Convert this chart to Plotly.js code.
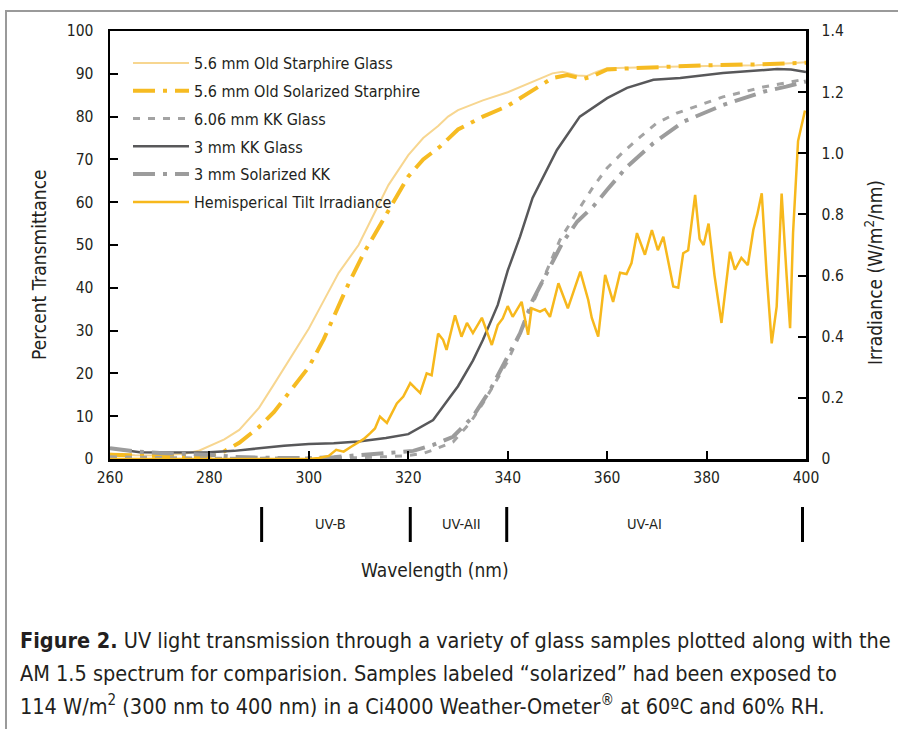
<!DOCTYPE html>
<html>
<head>
<meta charset="utf-8">
<script src="https://cdn.plot.ly/plotly-3.0.1.min.js"></script>
<style>
  html, body { margin: 0; padding: 0; background: #fff; }
  #chart { width: 898px; height: 729px; }
</style>
</head>
<body>
<div id="chart"></div>
<script>
// ---- Data ----
var starphireNm = [260, 265, 270, 275, 278, 280, 283, 286, 290, 293, 296, 300, 303, 306, 310, 313, 316, 320, 323, 326, 328, 330, 335, 340, 345, 349, 351, 354, 356, 358, 360, 365, 370, 380, 390, 400];
var starphireT  = [1.2, 0.9, 0.8, 1.2, 2, 3, 4.6, 6.8, 12, 17.5, 23, 30.5, 37, 43.5, 50, 57, 64, 71, 75, 77.8, 80, 81.5, 83.8, 85.7, 88.2, 90.1, 90.5, 89.6, 89.5, 90.5, 91.3, 91.5, 91.6, 91.8, 92, 92.7];

var solStarNm = [260, 265, 270, 275, 280, 283, 286, 290, 293, 296, 300, 303, 306, 308, 311, 314, 317, 320, 323, 326.4, 330, 335, 340, 345, 349, 352, 355.2, 357, 360, 365, 370, 380, 390, 400];
var solStarT  = [1.0, 0.8, 0.6, 0.6, 0.7, 1.8, 3.8, 7.5, 11, 15.5, 21.5, 28, 36, 41, 48, 54, 60, 66, 70, 73, 77, 80, 82.5, 86, 89, 89.7, 88.8, 89.4, 91, 91.3, 91.6, 92, 92.2, 92.6];

var kk606Nm = [260, 270, 280, 290, 300, 310, 315, 320, 323, 325, 329, 332.4, 335, 337, 339.8, 342, 344.5, 346.5, 348.5, 350.5, 354.6, 357.2, 360, 363.2, 366.6, 370, 374, 378.7, 383.3, 391.4, 400];
var kk606T  = [0.5, 0.3, 0.2, 0.2, 0.2, 0.3, 0.5, 0.8, 1.3, 2.1, 4, 8.4, 13, 16.8, 22.4, 28, 34.8, 40.5, 45.8, 51.2, 58.9, 63.6, 68, 71.7, 75.2, 78.5, 80.8, 82.7, 84.6, 86.9, 88.8];

var kk3Nm = [260, 263, 266, 270, 275, 280, 285, 290, 295, 300, 305, 310, 315.5, 320, 325, 328.4, 330, 333, 335, 338, 340, 342.5, 345, 349.9, 354.5, 360, 364, 369.3, 374.7, 383.3, 394.2, 397, 400];
var kk3T  = [2.5, 2, 1.6, 1.5, 1.5, 1.6, 1.9, 2.5, 3.1, 3.5, 3.7, 4.1, 4.9, 5.8, 9.1, 14.5, 17, 23, 27.8, 36, 44, 52, 61, 72.2, 80, 84.3, 86.7, 88.6, 89, 90.2, 91.1, 91, 90.4];

var solKKNm = [260, 265, 270, 275, 280, 285, 290, 300, 305, 310, 314.3, 318, 321, 325, 329, 333, 336.4, 339, 342.5, 345, 348, 351, 354, 357.2, 360, 364, 369.3, 375.3, 383.3, 391.4, 396, 400];
var solKKT  = [2.5, 1.8, 1.4, 1.2, 1.0, 0.5, 0.3, 0.2, 0.4, 0.9, 1.4, 1.6, 1.9, 3.3, 5.2, 9.9, 16, 21.6, 29.4, 37, 44, 50.5, 55.5, 59, 62.9, 68.3, 73.8, 78.8, 82.7, 85.8, 87, 88.2];

var irrNm  = [260, 280, 300, 302, 304, 305.5, 307, 308.5, 310, 311, 312.3, 313.3, 314.3, 315.7, 316.7, 317.7, 319, 320.4, 321.5, 322.4, 323.7, 324.7, 326, 327, 327.7, 329.4, 330.7, 331.8, 333, 334.8, 336.8, 338, 339, 340, 341, 342.8, 344.1, 344.8, 346.5, 347.5, 348.5, 350.2, 352.1, 354.6, 356.2, 356.9, 358.2, 359.6, 361.2, 362.6, 363.9, 364.9, 366, 367.6, 369, 370.2, 371.3, 372.7, 373.3, 374.3, 375.3, 376.3, 377.7, 378.6, 379.4, 380.4, 381.6, 383, 384.7, 385.7, 387, 388.3, 389.4, 390.2, 391.1, 392.1, 393.1, 394.1, 395.1, 396.1, 396.8, 397.4, 398.4, 399.8];
var irrVal = [0, 0, 0, 0.003, 0.01, 0.03, 0.024, 0.04, 0.056, 0.065, 0.084, 0.1, 0.139, 0.118, 0.15, 0.182, 0.204, 0.248, 0.23, 0.216, 0.28, 0.274, 0.41, 0.39, 0.357, 0.47, 0.40, 0.445, 0.412, 0.462, 0.373, 0.438, 0.46, 0.50, 0.465, 0.514, 0.406, 0.493, 0.482, 0.49, 0.465, 0.575, 0.493, 0.613, 0.52, 0.462, 0.40, 0.602, 0.514, 0.609, 0.605, 0.641, 0.739, 0.668, 0.749, 0.683, 0.727, 0.619, 0.564, 0.56, 0.673, 0.683, 0.864, 0.72, 0.70, 0.77, 0.6, 0.445, 0.678, 0.619, 0.658, 0.634, 0.749, 0.80, 0.869, 0.6, 0.378, 0.498, 0.868, 0.6, 0.428, 0.74, 1.04, 1.14];

var seriesNames = ["5.6 mm Old Starphire Glass", "5.6 mm Old Solarized Starphire", "6.06 mm KK Glass", "3 mm KK Glass", "3 mm Solarized KK", "Hemisperical Tilt Irradiance"];

var xTickVals = [260, 280, 300, 320, 340, 360, 380, 400];
var yTickVals = [0, 10, 20, 30, 40, 50, 60, 70, 80, 90, 100];
var y2TickVals = [0, 0.2, 0.4, 0.6, 0.8, 1.0, 1.2, 1.4];
var y2TickText = ["0", "0.2", "0.4", "0.6", "0.8", "1.0", "1.2", "1.4"];

var uvBounds = [290.5, 320.4, 339.8, 399.3];
var uvBandLabels = ["UV-B", "UV-AII", "UV-AI"];
var uvLabelNm = [304.3, 330.8, 367.6];

var xTitle = 'Wavelength (nm)';
var yTitle = 'Percent Transmittance';
var y2Title = 'Irradiance (W/m<sup>2</sup>/nm)';

var captionLines = [
  "<b>Figure 2.</b> UV light transmission through a variety of glass samples plotted along with the",
  "AM 1.5 spectrum for comparision. Samples labeled \u201csolarized\u201d had been exposed to",
  "114 W/m<sup>2</sup> (300 nm to 400 nm) in a Ci4000 Weather-Ometer<sup>\u00ae</sup> at 60\u00baC and 60% RH."
];

// ---- Styling ----
var FONT = "'DejaVu Sans Condensed', 'DejaVu Sans', sans-serif";
var INK = '#231f20';
var W = 898, H = 729;
var mL = 110, mR = 92, mT = 31, mB = 270;
var pw = W - mL - mR, ph = H - mT - mB;
function px2paperX(px) { return (px - mL) / pw; }
function px2paperY(py) { return 1 - (py - mT) / ph; }

var traces = [
  {x: starphireNm, y: starphireT, name: seriesNames[0], mode: 'lines', legendgroup: 'a',
   line: {color: '#f7d690', width: 2}},
  {x: solStarNm, y: solStarT, name: seriesNames[1], mode: 'lines', legendgroup: 'b',
   line: {color: '#f6bb22', width: 4, dash: '22px,8px,4px,8px'}},
  {x: kk606Nm, y: kk606T, name: seriesNames[2], mode: 'lines', legendgroup: 'c',
   line: {color: '#a3a3a3', width: 3, dash: '7px,8px'}},
  {x: kk3Nm, y: kk3T, name: seriesNames[3], mode: 'lines', legendgroup: 'd',
   line: {color: '#58585a', width: 2.5}},
  {x: solKKNm, y: solKKT, name: seriesNames[4], mode: 'lines', legendgroup: 'e',
   line: {color: '#9c9c9c', width: 4, dash: '22px,8px,4px,8px'}},
  {x: irrNm, y: irrVal, name: seriesNames[5], mode: 'lines', yaxis: 'y2', legendgroup: 'f',
   line: {color: '#f7b81c', width: 2.5}}
];

var shapes = [
  {type: 'rect', xref: 'paper', yref: 'paper', layer: 'below',
   x0: px2paperX(6), x1: px2paperX(960), y0: px2paperY(800), y1: px2paperY(11),
   line: {color: '#9a9a9a', width: 2}, fillcolor: 'rgba(0,0,0,0)'}
];
uvBounds.forEach(function (b) {
  shapes.push({type: 'line', xref: 'x', yref: 'paper', x0: b, x1: b,
    y0: px2paperY(507), y1: px2paperY(542), line: {color: '#000', width: 3}});
});

var annotations = [];
for (var i = 0; i < uvBandLabels.length; i++) {
  annotations.push({xref: 'x', yref: 'paper', x: uvLabelNm[i],
    y: px2paperY(524), text: uvBandLabels[i], showarrow: false,
    font: {family: FONT, size: 14.5, color: INK}, xanchor: 'center', yanchor: 'middle'});
}
// axis titles (placed where the reference draws them)
var titleFont = {family: FONT, size: 19, color: INK};
annotations.push({xref: 'paper', yref: 'paper', x: px2paperX(435), y: px2paperY(570),
  text: xTitle, showarrow: false, font: titleFont, xanchor: 'center', yanchor: 'middle'});
annotations.push({xref: 'paper', yref: 'paper', x: px2paperX(39), y: px2paperY(265),
  text: yTitle, showarrow: false, font: titleFont, textangle: -90, xanchor: 'center', yanchor: 'middle'});
annotations.push({xref: 'paper', yref: 'paper', x: px2paperX(874), y: px2paperY(273),
  text: y2Title, showarrow: false, font: titleFont, textangle: -90, xanchor: 'center', yanchor: 'middle'});

var captionY = [640, 673, 705];
captionLines.forEach(function (t, k) {
  annotations.push({xref: 'paper', yref: 'paper', x: px2paperX(18), y: px2paperY(captionY[k]),
    xanchor: 'left', yanchor: 'middle', align: 'left', showarrow: false,
    text: t, font: {family: FONT, size: 21.5, color: INK}});
});

var axisCommon = {
  showgrid: false, zeroline: false, showline: true, linecolor: '#000', linewidth: 2.5,
  ticks: 'inside', ticklen: 8, tickwidth: 2, tickcolor: '#000',
  tickfont: {family: FONT, size: 15.5, color: INK}
};

var layout = {
  width: W, height: H,
  margin: {l: mL, r: mR, t: mT, b: mB, pad: 0},
  paper_bgcolor: '#fff', plot_bgcolor: '#fff',
  showlegend: true,
  legend: {x: px2paperX(128), y: px2paperY(46), xanchor: 'left', yanchor: 'top',
    bgcolor: 'rgba(0,0,0,0)', borderwidth: 0, itemwidth: 56, tracegroupgap: 4,
    font: {family: FONT, size: 16, color: INK}},
  xaxis: Object.assign({}, axisCommon, {
    range: [260, 400], tickvals: xTickVals, mirror: true, ticklabelstandoff: 3
  }),
  yaxis: Object.assign({}, axisCommon, {
    range: [0, 100], tickvals: yTickVals, ticklabelstandoff: 11
  }),
  yaxis2: Object.assign({}, axisCommon, {
    range: [0, 1.4], tickvals: y2TickVals, ticktext: y2TickText, overlaying: 'y', side: 'right',
    ticklabelstandoff: 10
  }),
  shapes: shapes,
  annotations: annotations
};

Plotly.newPlot('chart', traces, layout, {displayModeBar: false, staticPlot: true});
</script>
</body>
</html>
